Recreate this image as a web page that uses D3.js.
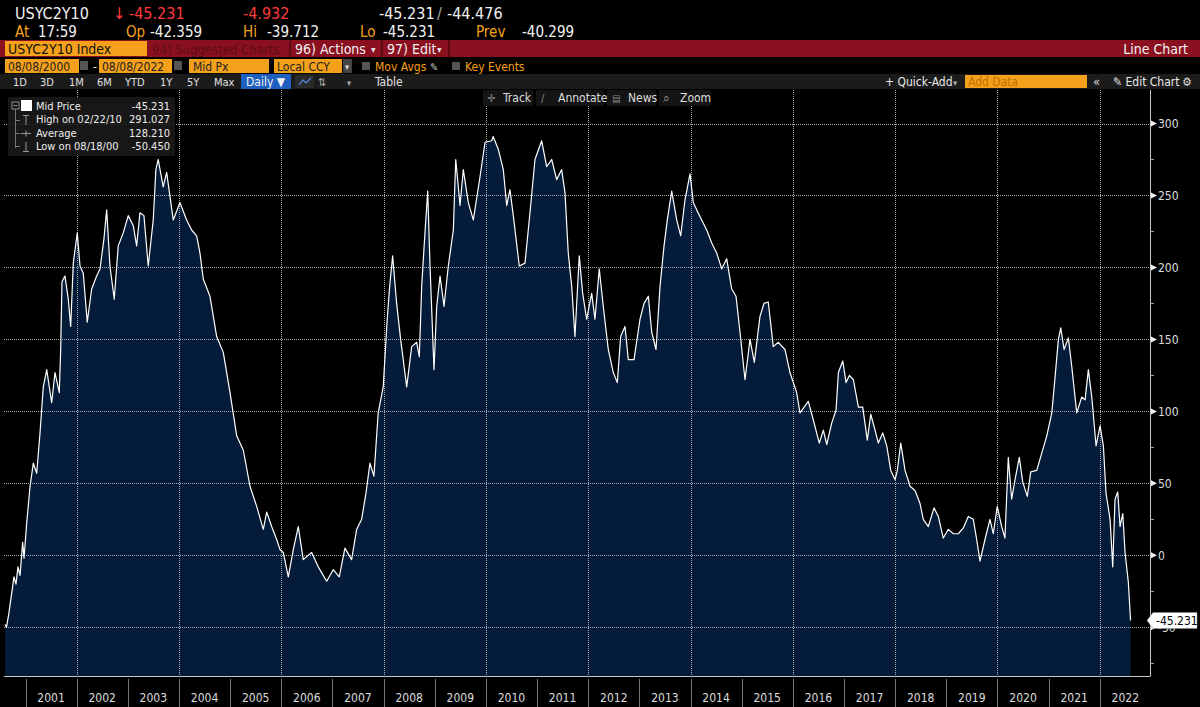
<!DOCTYPE html>
<html><head><meta charset="utf-8">
<script src="https://cdn.jsdelivr.net/npm/d3@7"></script>
<style>
html,body{margin:0;padding:0;background:#000;}
svg{display:block;}
text{font-family:"DejaVu Sans Condensed","Liberation Sans Narrow","Roboto Condensed","DejaVu Sans",sans-serif;}
</style></head>
<body>
<svg id="c" width="1200" height="707"></svg>
<script>
// ---- data (decimal year, spread in bp) ----
const years = [2000.599,2000.627,2000.675,2000.734,2000.773,2000.812,2000.851,2000.891,2000.943,2000.969,
2001.022,2001.086,2001.151,2001.217,2001.282,2001.346,2001.413,2001.510,2001.575,2001.659,2001.686,2001.712,2001.770,2001.835,2001.882,2001.933,
2002.011,2002.064,2002.128,2002.206,2002.292,2002.390,2002.455,2002.533,2002.586,2002.650,2002.734,2002.812,2002.910,
2003.008,2003.106,2003.172,2003.237,2003.315,2003.399,2003.497,2003.549,2003.594,2003.692,2003.759,2003.888,
2004.019,2004.150,2004.247,2004.345,2004.410,2004.474,2004.605,2004.736,2004.865,2004.996,
2005.127,2005.256,2005.387,2005.518,2005.647,2005.714,2005.811,2005.909,2005.974,
2006.038,2006.136,2006.234,2006.331,2006.429,2006.593,2006.722,2006.887,
2007.016,2007.133,2007.244,2007.375,2007.473,2007.571,2007.655,2007.733,2007.811,2007.895,2007.993,
2008.071,2008.124,2008.177,2008.255,2008.333,2008.451,2008.548,2008.646,2008.697,2008.744,2008.795,2008.861,2008.906,2008.984,
2009.037,2009.102,2009.180,2009.264,2009.362,2009.409,2009.493,2009.557,2009.655,2009.753,2009.884,2009.982,
2010.112,2010.142,2010.242,2010.339,2010.406,2010.470,2010.535,2010.652,2010.764,2010.861,2010.959,
2011.090,2011.188,2011.286,2011.383,2011.481,2011.546,2011.610,2011.677,2011.741,2011.825,2011.892,2011.970,
2012.068,2012.132,2012.216,2012.294,2012.392,2012.490,2012.568,2012.634,2012.718,2012.783,2012.894,
2013.011,2013.090,2013.174,2013.240,2013.324,2013.403,2013.481,2013.545,2013.631,2013.729,2013.807,2013.891,2013.989,
2014.054,2014.120,2014.218,2014.316,2014.414,2014.511,2014.609,2014.707,2014.805,2014.889,2014.967,
2015.065,2015.163,2015.247,2015.358,2015.436,2015.520,2015.618,2015.716,2015.847,2015.945,
2016.075,2016.140,2016.302,2016.400,2016.517,2016.596,2016.662,2016.760,2016.844,2016.889,2016.975,
2017.039,2017.104,2017.182,2017.280,2017.365,2017.455,2017.522,2017.606,2017.670,2017.757,2017.835,2017.913,2017.997,
2018.042,2018.109,2018.193,2018.291,2018.388,2018.486,2018.550,2018.648,2018.760,2018.844,2018.941,
2019.039,2019.137,2019.235,2019.333,2019.430,2019.528,2019.594,2019.659,2019.757,2019.854,2019.919,2019.997,
2020.083,2020.147,2020.212,2020.278,2020.343,2020.427,2020.493,2020.583,2020.650,2020.767,2020.865,2020.963,
2021.061,2021.125,2021.190,2021.236,2021.301,2021.385,2021.452,2021.549,2021.647,2021.712,2021.776,2021.843,2021.927,
2022.005,2022.070,2022.122,2022.201,2022.253,2022.298,2022.351,2022.396,2022.449,2022.494,2022.559,2022.602];

const spread = [-48,-50,-40,-25,-15,-20,-8,-14,9,-2,
22.6,47.7,64,57,85,117,129,106,127,113,143,190,194,178,159,203,
224,201,196,162,185,194,199,220,240,201,178,215,224,
236,229,215,238,236,201,233,268,275,256,266,233,
245,233,226,222,210,192,180,152,141,113,
83,73,48,34,18,30,20,11,4,
2,-15,4,20,-3,2,-8,-18,
-10,-15,5,-3,18,25,43,64,55,99,117,
164,189,208,175,150,117,145,148,138,187,217,253,201,129,
173,194,173,201,226,275,243,268,245,233,263,287,
288,291.027,282,268,243,254,236,201,203,238,275,
288,270,275,261,268,252,210,187,152,208,182,164,
182,164,199,173,143,127,120,152,159,136,136,
164,175,180,155,143,187,215,233,253,233,222,247,265,
245,240,233,226,217,210,199,206,185,180,155,
122,150,134,166,175,176,145,148,143,127,
113,99,107,94,78,87,77,92,101,127,135,
120,125,122,103,103,80,98,87,78,85,76,59,52.5,
59,78,59,48,45,36,25,20,33,27,12,
18,15,15,19,27,25,11,-4,11,25,15,34,
20,12,68,39,52.5,68,51,41,58,59,71,83,
99,124,150,158,143,151,131,99,110,108,129,110,76,
90,76,43,25,-8,39,44,20,29,2,-19,-45.231];

const yTicks = [-50,0,50,100,150,200,250,300];
const yMinor = [-75,-25,25,75,125,175,225,275];
const yearLabels = d3.range(2001,2023);
const lastValue = -45.231;

const legendRows = [
  {label:"Mid Price", value:"-45.231"},
  {label:"High on 02/22/10", value:"291.027"},
  {label:"Average", value:"128.210"},
  {label:"Low on 08/18/00", value:"-50.450"}
];

// ---- helpers ----
function toDate(t){const y=Math.floor(t);const s=Date.UTC(y,0,1),e=Date.UTC(y+1,0,1);return new Date(s+(t-y)*(e-s));}
const data = years.map((t,i)=>({d:toDate(t),v:spread[i]}));

const svg = d3.select("#c");
const W=1200,H=707;
const plot={left:4,right:1150,top:90,bottom:676};

const x = d3.scaleUtc().domain([new Date(Date.UTC(2001,0,1)),new Date(Date.UTC(2022,0,1))]).range([25.6,1099.8]);
const y = d3.scaleLinear().domain([-50,300]).range([627.3,123.5]);

svg.append("rect").attr("width",W).attr("height",H).attr("fill","#000");

// ---- plot ----
const defs=svg.append("defs");
defs.append("clipPath").attr("id","plotclip").append("rect")
  .attr("x",plot.left).attr("y",plot.top).attr("width",plot.right-plot.left).attr("height",plot.bottom-plot.top);

const area=d3.area().x(d=>x(d.d)).y0(plot.bottom).y1(d=>y(d.v));
const line=d3.line().x(d=>x(d.d)).y(d=>y(d.v));
svg.append("path").datum(data).attr("d",area).attr("fill","#041c3a").attr("clip-path","url(#plotclip)");

// gridlines (dotted)
const grid=svg.append("g");
yTicks.forEach(v=>{
  const yy=Math.round(y(v))+0.5;
  grid.append("line").attr("x1",plot.left).attr("x2",plot.right).attr("y1",yy).attr("y2",yy)
    .style("stroke","#a8a8a8").style("stroke-width","1px").style("stroke-dasharray","1,1");
});
const evenYears=d3.range(2002,2023,2).map(yr=>new Date(Date.UTC(yr,0,1)));
evenYears.forEach(d=>{
  const xx=Math.round(x(d))+0.5;
  grid.append("line").attr("x1",xx).attr("x2",xx).attr("y1",plot.top).attr("y2",plot.bottom)
    .style("stroke","#a8a8a8").style("stroke-width","1px").style("stroke-dasharray","1,1");
});

svg.append("path").datum(data).attr("d",line).attr("fill","none").attr("stroke","#fff").attr("stroke-width",1.2)
  .attr("stroke-linejoin","round").attr("clip-path","url(#plotclip)");

// ---- header ----
const orange="#f5a01a", red="#ff3b3b", white="#f2f2f2";
function txt(g,s,xx,yy,fill,size,anchor){return g.append("text").attr("x",xx).attr("y",yy).attr("fill",fill).attr("font-size",size).attr("text-anchor",anchor||"start").text(s);}
const hdr=svg.append("g");
hdr.append("rect").attr("x",0).attr("y",0).attr("width",W).attr("height",90).attr("fill","#000");
txt(hdr,"USYC2Y10",15,19,white,16);
txt(hdr,"\u2193",113,19,red,16);
txt(hdr,"-45.231",129,19,red,16);
txt(hdr,"-4.932",243,19,red,16);
txt(hdr,"-45.231",379,19,white,16);
txt(hdr,"/",437,19,"#aaa",16);
txt(hdr,"-44.476",447,19,white,16);
txt(hdr,"At",15,37,orange,15);
txt(hdr,"17:59",38,37,white,15);
txt(hdr,"Op",126,37,orange,15);
txt(hdr,"-42.359",150,37,white,15);
txt(hdr,"Hi",243,37,orange,15);
txt(hdr,"-39.712",267,37,white,15);
txt(hdr,"Lo",360,37,orange,15);
txt(hdr,"-45.231",383,37,white,15);
txt(hdr,"Prev",476,37,orange,15);
txt(hdr,"-40.299",522,37,white,15);

// red bar
hdr.append("rect").attr("x",0).attr("y",40).attr("width",W).attr("height",17).attr("fill","#8a1020");
hdr.append("rect").attr("x",5).attr("y",41).attr("width",142).attr("height",15).attr("fill",orange);
txt(hdr,"USYC2Y10 Index",8,54,"#111",14);
txt(hdr,"94) Suggested Charts",152,54,"#5c0c16",13);
hdr.append("rect").attr("x",289).attr("y",40).attr("width",2).attr("height",17).attr("fill","#5c0a14");
hdr.append("rect").attr("x",381).attr("y",40).attr("width",2).attr("height",17).attr("fill","#5c0a14");
hdr.append("rect").attr("x",448).attr("y",40).attr("width",2).attr("height",17).attr("fill","#5c0a14");
txt(hdr,"96) Actions",295,54,white,14);
txt(hdr,"\u25BE",371,53,"#ddd",10);
txt(hdr,"97) Edit",387,54,white,14);
txt(hdr,"\u25BE",437,53,"#ddd",10);
txt(hdr,"Line Chart",1188,54,white,14,"end");

// orange inputs row
function obox(x0,w){hdr.append("rect").attr("x",x0).attr("y",59).attr("width",w).attr("height",14).attr("fill",orange);}
obox(5,74); txt(hdr,"08/08/2000",8,71,"#222",12);
hdr.append("rect").attr("x",80).attr("y",61).attr("width",8).attr("height",9).attr("fill","#555");
txt(hdr,"-",93,71,white,12);
obox(99,73); txt(hdr,"08/08/2022",102,71,"#222",12);
hdr.append("rect").attr("x",174).attr("y",61).attr("width",8).attr("height",9).attr("fill","#555");
obox(189,80); txt(hdr,"Mid Px",193,71,"#222",12);
obox(274,68); txt(hdr,"Local CCY",277,71,"#222",12);
hdr.append("rect").attr("x",343).attr("y",59).attr("width",9).attr("height",14).attr("fill","#444");
txt(hdr,"\u25BE",345,70,"#ddd",9);
hdr.append("rect").attr("x",362).attr("y",62).attr("width",8).attr("height",8).attr("fill","#555");
txt(hdr,"Mov Avgs",375,71,orange,12);
txt(hdr,"\u270E",430,71,"#bbb",11);
hdr.append("rect").attr("x",452).attr("y",62).attr("width",8).attr("height",8).attr("fill","#555");
txt(hdr,"Key Events",465,71,orange,12);

// toolbar row
hdr.append("rect").attr("x",0).attr("y",74).attr("width",W).attr("height",15).attr("fill","#1b1b1b");
const btns=[["1D",13],["3D",40],["1M",69],["6M",97],["YTD",125],["1Y",160],["5Y",187],["Max",214]];
btns.forEach(b=>{txt(hdr,b[0],b[1],86,"#e0e0e0",11);});
hdr.append("rect").attr("x",241).attr("y",74).attr("width",50).attr("height",15).attr("fill","#1f5fbf");
txt(hdr,"Daily \u25BC",246,86,white,12);
hdr.append("rect").attr("x",295).attr("y",75).attr("width",19).attr("height",13).attr("fill","#2a2a2a");
hdr.append("path").attr("d","M299 85 L303 80 L306 83 L311 78").attr("stroke","#5a8de0").attr("fill","none").attr("stroke-width",1.2);
txt(hdr,"\u21C5",318,86,"#aaa",11);
txt(hdr,"\u25BE",347,86,"#aaa",9);
txt(hdr,"Table",375,86,"#e0e0e0",12);
txt(hdr,"+ Quick-Add",885,86,"#e8e8e8",12);
txt(hdr,"\u25BE",953,86,"#aaa",9);
hdr.append("rect").attr("x",965).attr("y",75).attr("width",122).attr("height",13).attr("fill",orange);
txt(hdr,"Add Data",968,86,"#c07000",12);
txt(hdr,"\u00AB",1093,86,"#ddd",13);
txt(hdr,"\u270E Edit Chart",1113,86,"#e8e8e8",12);
txt(hdr,"\u2699",1182,86,"#ddd",12);

// ---- axes ----
const axisCol="#c8c8c8";
svg.append("line").attr("x1",plot.left).attr("x2",plot.right).attr("y1",plot.bottom+0.5).attr("y2",plot.bottom+0.5).attr("stroke",axisCol);
svg.append("line").attr("x1",plot.right+0.5).attr("x2",plot.right+0.5).attr("y1",plot.top).attr("y2",plot.bottom+0.5).attr("stroke",axisCol);

const yearStarts=d3.range(2001,2023).map(yr=>new Date(Date.UTC(yr,0,1)));
const xAx=svg.append("g");
yearStarts.forEach(d=>{
  const xx=Math.round(x(d))+0.5;
  xAx.append("line").attr("x1",xx).attr("x2",xx).attr("y1",plot.bottom+3).attr("y2",H).attr("stroke","#777");
});
xAx.selectAll("text").data(yearLabels).join("text")
  .attr("x",d=>x(new Date(Date.UTC(d,6,2)))).attr("y",702).attr("text-anchor","middle")
  .attr("fill","#dcdcdc").attr("font-size",12).text(d=>d);

const yAxis=svg.append("g");
yMinor.forEach(v=>{
  const yy=Math.round(y(v))+0.5;
  yAxis.append("line").attr("x1",plot.right).attr("x2",plot.right+4).attr("y1",yy).attr("y2",yy).attr("stroke","#aaa");
});
yTicks.forEach(v=>{
  const yy=y(v);
  yAxis.append("path").attr("d",`M${plot.right+1} ${yy-3} L${plot.right+7} ${yy} L${plot.right+1} ${yy+3} Z`).attr("fill","#eee");
  yAxis.append("text").attr("x",plot.right+8).attr("y",yy+4.5).attr("fill","#dcdcdc").attr("font-size",12).text(v);
});

// last value marker
const ly=y(lastValue);
svg.append("path").attr("d",`M${plot.right-3} ${ly} L${plot.right+3} ${ly-8} L${1197} ${ly-8} L${1197} ${ly+8} L${plot.right+3} ${ly+8} Z`)
  .attr("fill","#fff").attr("stroke","#888").attr("stroke-width",0.5);
txt(svg,lastValue.toFixed(3),1156,ly+4.5,"#000",12);

// ---- track toolbar ----
const tb=svg.append("g");
[[483,50],[536,68],[607,49],[659,52]].forEach(b=>tb.append("rect").attr("x",b[0]).attr("y",90).attr("width",b[1]).attr("height",16).attr("fill","#141414"));
txt(tb,"\u271B",487,102,"#888",11);
txt(tb,"Track",503,102,"#ddd",12);
txt(tb,"\u2215",541,102,"#888",11);
txt(tb,"Annotate",558,102,"#ddd",12);
txt(tb,"\u25A4",612,102,"#888",10);
txt(tb,"News",628,102,"#ddd",12);
txt(tb,"\u2315",663,102,"#888",12);
txt(tb,"Zoom",680,102,"#ddd",12);

// ---- legend ----
const lg=svg.append("g");
lg.append("rect").attr("x",8).attr("y",97).attr("width",167).attr("height",59).attr("rx",2).attr("fill","#1a1a1a").attr("opacity",0.9);
lg.append("rect").attr("x",12).attr("y",102).attr("width",7).attr("height",7).attr("fill","none").attr("stroke","#888");
lg.append("line").attr("x1",13.5).attr("x2",17.5).attr("y1",105.5).attr("y2",105.5).attr("stroke","#888");
lg.append("line").attr("x1",15.5).attr("x2",15.5).attr("y1",109).attr("y2",148).attr("stroke","#777");
[120,133,146].forEach(yy=>lg.append("line").attr("x1",15.5).attr("x2",20).attr("y1",yy+0.5).attr("y2",yy+0.5).attr("stroke","#777"));
lg.append("rect").attr("x",21).attr("y",100).attr("width",11).attr("height",11).attr("fill","#fff");
lg.append("path").attr("d","M23 115.5 H29 M26 115.5 V125").attr("stroke","#999").attr("fill","none");
lg.append("path").attr("d","M21 133.5 H31 M26 130.5 V136.5").attr("stroke","#999").attr("fill","none");
lg.append("path").attr("d","M23 151.5 H29 M26 142 V151.5").attr("stroke","#999").attr("fill","none");
legendRows.forEach((r,i)=>{
  const yy=110+i*13.3;
  txt(lg,r.label,36,yy,"#eee",11);
  txt(lg,r.value,170,yy,"#eee",11,"end");
});
</script>
</body></html>
